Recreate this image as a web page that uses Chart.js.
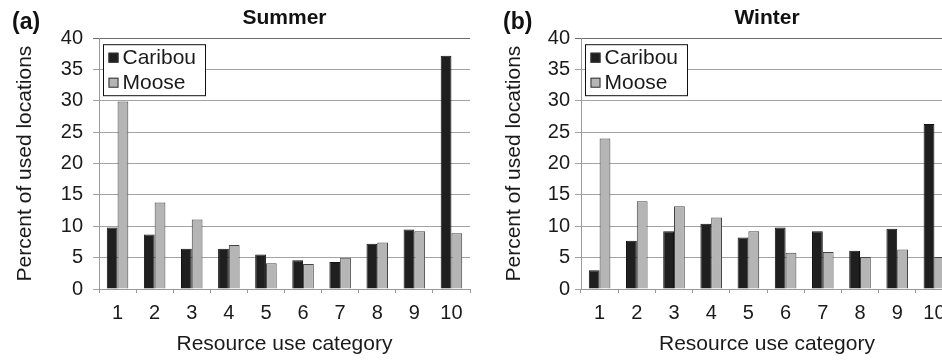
<!DOCTYPE html>
<html>
<head>
<meta charset="utf-8">
<script src="https://cdn.jsdelivr.net/npm/chart.js@4/dist/chart.umd.min.js"></script>
<style>
  html, body { margin: 0; padding: 0; background: #ffffff; }
  #wrap { position: relative; width: 942px; height: 362px; overflow: hidden; background: #fff; }
  #summer { position: absolute; left: 0; top: 0; }
  #winter { position: absolute; left: 471px; top: 0; }
</style>
</head>
<body>
<div id="wrap">
  <canvas id="summer" width="471" height="362"></canvas>
  <canvas id="winter" width="483" height="362"></canvas>
</div>
<script>
// Resource use categories (x axis)
const categories = ['1', '2', '3', '4', '5', '6', '7', '8', '9', '10'];

// Percent of used locations, summer
const summerCaribou = [9.8, 8.7, 6.4, 6.4, 5.5, 4.6, 4.3, 7.2, 9.5, 37.2];
const summerMoose   = [29.9, 13.8, 11.1, 7.0, 4.1, 4.0, 5.0, 7.4, 9.2, 8.9];

// Percent of used locations, winter
const winterCaribou = [3.0, 7.7, 9.2, 10.4, 8.2, 9.8, 9.2, 6.1, 9.6, 26.3];
const winterMoose   = [24.0, 14.0, 13.2, 11.4, 9.2, 5.8, 5.9, 5.1, 6.3, 5.1];

// Y axis tick range
const yMin = 0, yMax = 40, yStep = 5;

const FONT = '"Liberation Sans", Arial, Helvetica, sans-serif';
const CARIBOU_COLOR = '#1f1f1f';
const MOOSE_COLOR = '#b5b5b5';

// Panel letter and boxed legend drawn on top of the plot
const panelDecor = {
  id: 'panelDecor',
  afterDatasetsDraw(chart, args, opts) {
    const ctx = chart.ctx;
    const area = chart.chartArea;
    ctx.save();
    // panel letter
    ctx.font = 'bold 23px ' + FONT;
    ctx.fillStyle = '#111';
    ctx.textBaseline = 'middle';
    ctx.textAlign = 'left';
    ctx.fillText(opts.letter, opts.letterX, 23);

    // legend box
    const L = area.left + 4.5, T = area.top + 6.5, W = 102, H = 51;
    ctx.fillStyle = '#ffffff';
    ctx.fillRect(L, T, W, H);
    ctx.strokeStyle = '#111';
    ctx.lineWidth = 1;
    ctx.strokeRect(L, T, W, H);
    ctx.font = '21px ' + FONT;
    chart.data.datasets.forEach((ds, i) => {
      const cy = T + 13 + i * 25;
      ctx.fillStyle = ds.backgroundColor;
      ctx.fillRect(L + 5, cy - 5, 10, 10);
      ctx.strokeStyle = '#333';
      ctx.strokeRect(L + 5.5, cy - 4.5, 9, 9);
      ctx.fillStyle = '#1a1a1a';
      ctx.fillText(ds.label, L + 19, cy + 1);
    });
    ctx.restore();
  }
};

function makeChart(id, title, caribou, moose, cfg) {
  return new Chart(document.getElementById(id), {
    type: 'bar',
    data: {
      labels: categories,
      datasets: [
        { label: 'Caribou', data: caribou, backgroundColor: CARIBOU_COLOR,
          borderColor: '#111', borderWidth: 1 },
        { label: 'Moose', data: moose, backgroundColor: MOOSE_COLOR,
          borderColor: '#444', borderWidth: 1 }
      ]
    },
    options: {
      responsive: false,
      animation: false,
      devicePixelRatio: 1,
      categoryPercentage: 0.58,
      barPercentage: 1.0,
      layout: { padding: { left: 0, right: cfg.padRight, top: 0, bottom: 0 } },
      plugins: {
        legend: { display: false },
        tooltip: { enabled: false },
        title: {
          display: true,
          text: title,
          fullSize: false,
          color: '#111',
          font: { family: FONT, size: 21, weight: 'bold', lineHeight: 1.2 },
          padding: { top: 6, bottom: 7 }
        },
        panelDecor: { letter: cfg.letter, letterX: cfg.letterX }
      },
      scales: {
        x: {
          offset: true,
          grid: { display: true, drawOnChartArea: false, drawTicks: true,
                  tickLength: 4, color: '#999', offset: true },
          border: { display: true, color: '#999', width: 1 },
          ticks: { color: '#1a1a1a', padding: 8,
                   font: { family: FONT, size: 20, lineHeight: 1.2 } },
          title: { display: true, text: 'Resource use category', color: '#1a1a1a',
                   font: { family: FONT, size: 21, lineHeight: 1.2 },
                   padding: { top: 0, bottom: 5 } },
          afterFit(scale) { scale.height = 73; }
        },
        y: {
          min: yMin, max: yMax,
          grid: {
            color: (c) => (c.tick && c.tick.value === yMax) ? '#6e6e6e' : '#a3a3a3',
            lineWidth: 1, tickLength: 6
          },
          border: { display: true, color: '#999', width: 1 },
          ticks: { stepSize: yStep, color: '#1a1a1a', padding: cfg.yTickPad,
                   font: { family: FONT, size: 20, lineHeight: 1.2 } },
          title: { display: true, text: 'Percent of used locations', color: '#1a1a1a',
                   font: { family: FONT, size: 21, lineHeight: 1.2 },
                   padding: { top: cfg.yTitlePad, bottom: 0 } },
          afterFit(scale) { scale.width = cfg.yWidth; }
        }
      }
    },
    plugins: [panelDecor]
  });
}

makeChart('summer', 'Summer', summerCaribou, summerMoose,
  { letter: '(a)', letterX: 12, yWidth: 99, yTickPad: 10, yTitlePad: 13, padRight: 1 });
makeChart('winter', 'Winter', winterCaribou, winterMoose,
  { letter: '(b)', letterX: 32, yWidth: 110, yTickPad: 5, yTitlePad: 31, padRight: 1 });
</script>
</body>
</html>
